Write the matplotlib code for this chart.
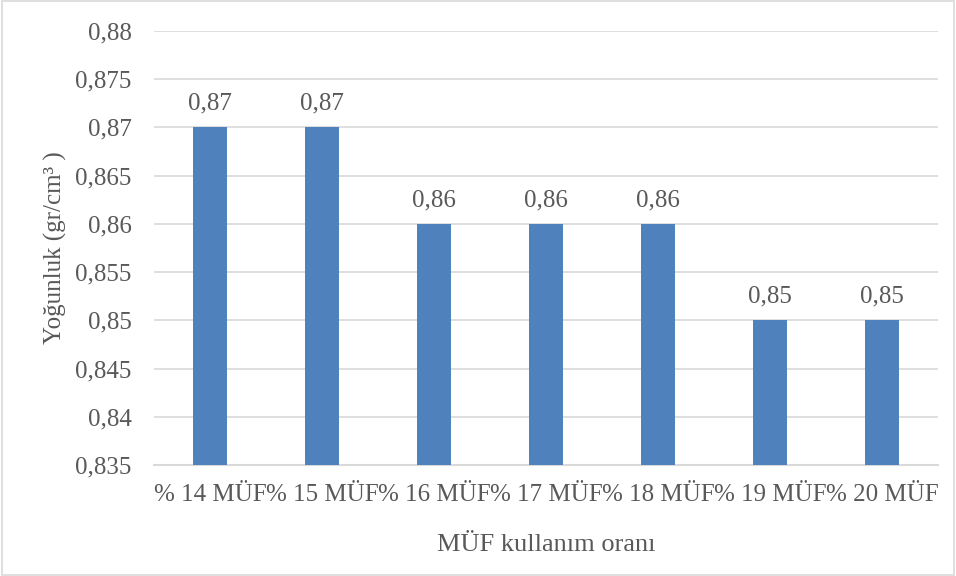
import matplotlib.pyplot as plt
import matplotlib.patches as mpatches
import numpy as np

categories = ['% 14 MÜF', '% 15 MÜF', '% 16 MÜF', '% 17 MÜF', '% 18 MÜF', '% 19 MÜF', '% 20 MÜF']
values = [0.87, 0.87, 0.86, 0.86, 0.86, 0.85, 0.85]
yticks = [0.835, 0.84, 0.845, 0.85, 0.855, 0.86, 0.865, 0.87, 0.875, 0.88]

plt.rcParams['font.family'] = ['Liberation Serif', 'DejaVu Serif']
txt = '#595959'
grid = '#d9d9d9'
fs = 18

fig = plt.figure(figsize=(9.56, 5.76), dpi=100)
ax = fig.add_axes([154/956, 1 - 465/576, (938 - 154)/956, (465 - 31)/576])

x = np.arange(len(categories))
bars = ax.bar(x, values, width=0.31, color='#4f81bd', zorder=3)

for xi, v in zip(x, values):
    ax.annotate(('%.2f' % v).replace('.', ','), (xi, v), xytext=(0, 9),
                textcoords='offset points', ha='center', va='bottom',
                fontsize=fs, color=txt)

ax.set_ylim(0.835, 0.88)
ax.set_xlim(-0.5, len(categories) - 0.5)
ax.set_yticks(yticks)
ax.set_yticklabels([('%g' % t).replace('.', ',') for t in yticks])
ax.set_xticks(x)
ax.set_xticklabels(categories)
ax.tick_params(axis='both', length=0, labelsize=fs, labelcolor=txt)
ax.tick_params(axis='y', pad=16)
ax.tick_params(axis='x', pad=14)
ax.yaxis.grid(True, color=grid, linewidth=1.2, zorder=0)

for s in ['top', 'right', 'left']:
    ax.spines[s].set_visible(False)
ax.spines['bottom'].set_color(grid)
ax.spines['bottom'].set_linewidth(1.5)

ax.set_xlabel('MÜF kullanım oranı', fontsize=fs + 1, color=txt, labelpad=20)
ax.set_ylabel('Yoğunluk (gr/cm³ )', fontsize=fs, color=txt, labelpad=6)

fig.patches.append(mpatches.Rectangle((0.002, 0.002), 0.996, 0.996, transform=fig.transFigure,
                                      fill=False, edgecolor=grid, linewidth=1.2))

fig.savefig('out.png', dpi=100)
